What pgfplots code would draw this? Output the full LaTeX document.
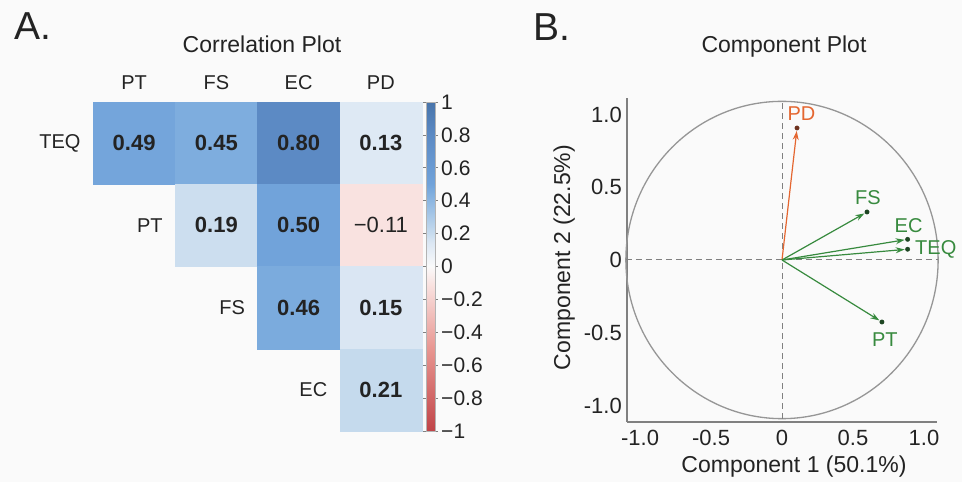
\documentclass[border=0pt]{standalone}
\usepackage{pgfplots}
\pgfplotsset{compat=1.18}
\usepackage{fontspec}
\setmainfont{Liberation Sans}
\usetikzlibrary{arrows.meta}
\definecolor{bg}{RGB}{250,250,250}
\definecolor{txt}{RGB}{35,35,35}
\definecolor{grn}{RGB}{55,138,62}
\definecolor{dgrn}{RGB}{30,70,35}
\definecolor{org}{RGB}{228,102,48}
\definecolor{dorg}{RGB}{110,50,30}
\definecolor{axgray}{RGB}{128,128,128}
\definecolor{circ}{RGB}{150,150,150}
\pgfplotsset{colormap={corr}{rgb255(0pt)=(192,68,72) rgb255(50pt)=(232,150,145) rgb255(89pt)=(249,226,224) rgb255(100pt)=(250,250,250) rgb255(115pt)=(218,230,243) rgb255(120pt)=(200,220,238) rgb255(145pt)=(126,173,222) rgb255(150pt)=(113,163,218) rgb255(180pt)=(92,138,196) rgb255(200pt)=(72,116,170)}}
\begin{document}
\begin{tikzpicture}
\fill[bg] (0pt,0pt) rectangle (962pt,482pt);
\node[anchor=base west, inner sep=0pt, font=\fontsize{39}{44}\selectfont, text=txt] at (14pt,442pt) {A.};
\node[anchor=base west, inner sep=0pt, font=\fontsize{39}{44}\selectfont, text=txt] at (533pt,441pt) {B.};
\node[anchor=base, inner sep=0pt, font=\fontsize{23}{27}\selectfont, text=txt] at (262pt,429pt) {Correlation Plot};
\node[anchor=base, inner sep=0pt, font=\fontsize{23}{27}\selectfont, text=txt] at (784pt,429pt) {Component Plot};
\node[anchor=base, inner sep=0pt, font=\fontsize{23}{27}\selectfont, text=txt] at (794pt,9pt) {Component 1 (50.1\%)};
\node[anchor=base, rotate=90, inner sep=0pt, font=\fontsize{23}{27}\selectfont, text=txt] at (570pt,224.5pt) {Component 2 (22.5\%)};

% ---------------- Correlation heatmap ----------------
\begin{axis}[
  at={(93pt,51pt)}, anchor=south west,
  width=329pt, height=329pt, scale only axis,
  xmin=-0.5, xmax=3.5, ymin=-0.5, ymax=3.5,
  axis line style={draw=none}, major tick length=0pt,
  xtick={0,1,2,3}, xticklabels={PT,FS,EC,PD}, xticklabel pos=right,
  ytick=\empty,
  xticklabel style={font=\fontsize{20}{24}\selectfont, text=txt, inner sep=0pt, anchor=base, yshift=12pt},
  colormap name=corr, point meta min=-1, point meta max=1,
  colorbar,
  colorbar style={
    at={(parent axis.north east)}, anchor=north west, xshift=-4.5pt,
    width=9pt, height=329pt, scale only axis,
    ytick={-1,-0.8,-0.6,-0.4,-0.2,0,0.2,0.4,0.6,0.8,1},
    yticklabels={−1,−0.8,−0.6,−0.4,−0.2,0,0.2,0.4,0.6,0.8,1},
    yticklabel style={font=\fontsize{21}{24}\selectfont, text=txt, inner sep=0pt, anchor=west, xshift=3pt},
    major tick length=3pt, tick align=outside, tick style={axgray, line width=0.6pt},
    axis line style={axgray!60, line width=0.4pt},
  },
  clip=false,
]
\addplot[scatter, only marks, mark=square*, mark size=41.125pt, point meta=explicit,
  scatter/use mapped color={draw=mapped color, fill=mapped color}]
coordinates {
 (0,3) [0.49] (1,3) [0.45] (2,3) [0.80] (3,3) [0.13]
 (1,2) [0.19] (2,2) [0.50] (3,2) [-0.11]
 (2,1) [0.46] (3,1) [0.15]
 (3,0) [0.21]
};
\addplot[only marks, mark=none, point meta=explicit symbolic, nodes near coords,
  nodes near coords align=center,
  every node near coord/.append style={font=\fontsize{22}{26}\selectfont, text=txt, anchor=center}]
coordinates {
 (0,3) [\textbf{0.49}] (1,3) [\textbf{0.45}] (2,3) [\textbf{0.80}] (3,3) [\textbf{0.13}]
 (1,2) [\textbf{0.19}] (2,2) [\textbf{0.50}] (3,2) [−0.11]
 (2,1) [\textbf{0.46}] (3,1) [\textbf{0.15}]
 (3,0) [\textbf{0.21}]
};
\addplot[only marks, mark=none, point meta=explicit symbolic, nodes near coords,
  every node near coord/.append style={font=\fontsize{20}{24}\selectfont, text=txt, anchor=east, inner sep=0pt}]
coordinates {
 (-0.65,3) [TEQ] (0.35,2) [PT] (1.35,1) [FS] (2.35,0) [EC]
};
\end{axis}

% ---------------- Component plot ----------------
\begin{axis}[
  at={(627pt,60pt)}, anchor=south west,
  width=310pt, height=324pt, scale only axis,
  xmin=-1.092, xmax=1.092, ymin=-1.113, ymax=1.113,
  axis x line*=bottom, axis y line*=left,
  axis line style={axgray, line width=1.3pt},
  major tick length=0pt,
  xtick={-1,-0.5,0,0.5,1}, xticklabels={-1.0,-0.5,0,0.5,1.0},
  ytick={-1,-0.5,0,0.5,1}, yticklabels={-1.0,-0.5,0,0.5,1.0},
  xticklabel style={font=\fontsize{22}{26}\selectfont, text=txt, inner sep=0pt, anchor=north, yshift=-8pt},
  yticklabel style={font=\fontsize{22}{26}\selectfont, text=txt, inner sep=0pt, anchor=east, xshift=-5pt},
  clip=false,
]
\draw[circ, line width=1.3pt] (axis cs:0,0) ellipse [x radius=1.1, y radius=1.09];
\addplot[axgray, line width=1pt, dash pattern=on 6pt off 4pt] coordinates {(-1.1,0) (1.1,0)};
\addplot[axgray, line width=1pt, dash pattern=on 6pt off 4pt] coordinates {(0,-1.09) (0,1.09)};
\addplot[org, line width=1.2pt, -{Stealth[length=9pt,width=6pt]}, shorten >=3pt]
  coordinates {(0,0) (0.106,0.907)}
  node[pos=1, anchor=base, inner sep=0pt, xshift=4.5pt, yshift=7pt, font=\fontsize{20}{24}\selectfont, text=org] {PD};
\addplot[grn, line width=1.2pt, -{Stealth[length=9pt,width=6pt]}, shorten >=3pt]
  coordinates {(0,0) (0.599,0.33)}
  node[pos=1, anchor=base, inner sep=0pt, xshift=1pt, yshift=7pt, font=\fontsize{20}{24}\selectfont, text=grn] {FS};
\addplot[grn, line width=1.2pt, -{Stealth[length=9pt,width=6pt]}, shorten >=3pt]
  coordinates {(0,0) (0.885,0.142)}
  node[pos=1, anchor=base, inner sep=0pt, xshift=1pt, yshift=7pt, font=\fontsize{20}{24}\selectfont, text=grn] {EC};
\addplot[grn, line width=1.2pt, -{Stealth[length=9pt,width=6pt]}, shorten >=3pt]
  coordinates {(0,0) (0.885,0.074)}
  node[pos=1, anchor=base west, inner sep=0pt, xshift=7pt, yshift=-5pt, font=\fontsize{20}{24}\selectfont, text=grn] {TEQ};
\addplot[grn, line width=1.2pt, -{Stealth[length=9pt,width=6pt]}, shorten >=3pt]
  coordinates {(0,0) (0.704,-0.426)}
  node[pos=1, anchor=base, inner sep=0pt, xshift=3pt, yshift=-24pt, font=\fontsize{20}{24}\selectfont, text=grn] {PT};
\addplot[only marks, mark=*, mark size=2.2pt, dgrn] coordinates {(0.599,0.33) (0.885,0.142) (0.885,0.074) (0.704,-0.426)};
\addplot[only marks, mark=*, mark size=2.2pt, dorg] coordinates {(0.106,0.907)};
\end{axis}
\pgfresetboundingbox
\useasboundingbox (0pt,0pt) rectangle (962pt,482pt);
\end{tikzpicture}
\end{document}
